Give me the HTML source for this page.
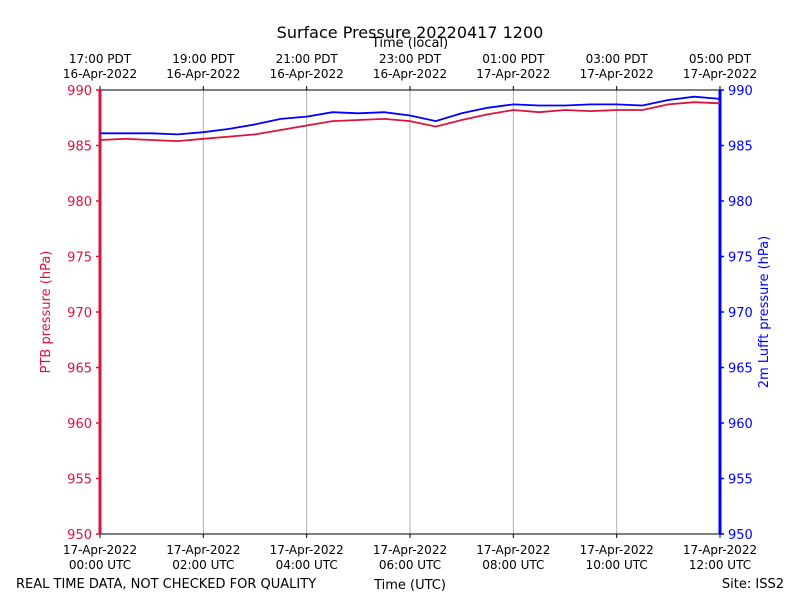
<!DOCTYPE html>
<html><head><meta charset="utf-8"><style>
body{margin:0;background:#fff;font-family:"DejaVu Sans","Liberation Sans",sans-serif}
svg text{font-family:"DejaVu Sans","Liberation Sans",sans-serif}
</style></head><body>
<svg id="c" width="800" height="600" xmlns="http://www.w3.org/2000/svg"></svg>
<script>
const hoursUTC=[0,0.5,1,1.5,2,2.5,3,3.5,4,4.5,5,5.5,6,6.5,7,7.5,8,8.5,9,9.5,10,10.5,11,11.5,12];
const ptbValues=[985.5,985.6,985.5,985.4,985.6,985.8,986.0,986.4,986.8,987.2,987.3,987.4,987.2,986.7,987.3,987.8,988.2,988.0,988.2,988.1,988.2,988.2,988.7,988.9,988.8];
const lufftValues=[986.1,986.1,986.1,986.0,986.2,986.5,986.9,987.4,987.6,988.0,987.9,988.0,987.7,987.2,987.9,988.4,988.7,988.6,988.6,988.7,988.7,988.6,989.1,989.4,989.2];
const yTicks=[950,955,960,965,970,975,980,985,990];
const xTickHours=[0,2,4,6,8,10,12];
const xTickUTC=["00:00 UTC","02:00 UTC","04:00 UTC","06:00 UTC","08:00 UTC","10:00 UTC","12:00 UTC"];
const xTickUTCDate=["17-Apr-2022","17-Apr-2022","17-Apr-2022","17-Apr-2022","17-Apr-2022","17-Apr-2022","17-Apr-2022"];
const xTickLocal=["17:00 PDT","19:00 PDT","21:00 PDT","23:00 PDT","01:00 PDT","03:00 PDT","05:00 PDT"];
const xTickLocalDate=["16-Apr-2022","16-Apr-2022","16-Apr-2022","16-Apr-2022","17-Apr-2022","17-Apr-2022","17-Apr-2022"];
const L=100,R=720,T=90,B=534;
const x=h=>L+(h-0)/(12-0)*(R-L);
const y=v=>B-(v-950)/(990-950)*(B-T);
const svg=document.getElementById('c');
function el(tag,attrs,txt){const e=document.createElementNS('http://www.w3.org/2000/svg',tag);for(const k in attrs)e.setAttribute(k,attrs[k]);if(txt!==undefined)e.textContent=txt;svg.appendChild(e);return e;}
function t(xx,yy,s,o){return el('text',Object.assign({x:xx,y:yy,'font-size':12,'text-anchor':'middle'},o||{}),s);}
xTickHours.forEach((h,i)=>{
 const g=el('line',{x1:x(h),x2:x(h),y1:T,y2:B,stroke:'#b0b0b0','stroke-width':1});
 
 
 const tk=el('line',{x1:x(h),x2:x(h),y1:B,y2:B+4,stroke:'#000'});
 
 
 const tk2=el('line',{x1:x(h),x2:x(h),y1:T,y2:T-4,stroke:'#000'});
 
 
 const a=t(x(h),554,xTickUTCDate[i]);
 const b=t(x(h),569,xTickUTC[i]);
 const c=t(x(h),63,xTickLocal[i]);
 const d=t(x(h),78,xTickLocalDate[i]);
});
const fr=el('rect',{x:L,y:T,width:R-L,height:B-T,fill:'none',stroke:'#000','stroke-width':1});

yTicks.forEach(v=>{
 const a=el('line',{x1:L-4,x2:L,y1:y(v),y2:y(v),stroke:'#dc143c','stroke-width':1.5});
 const b=el('line',{x1:R,x2:R+4,y1:y(v),y2:y(v),stroke:'#0000ff','stroke-width':1.5});
 const c=t(L-8,y(v)+5,v,{'text-anchor':'end',fill:'#dc143c','font-size':13});
 const d=t(R+8,y(v)+5,v,{'text-anchor':'start',fill:'#0000ff','font-size':13});
});
const sl=el('line',{x1:L,x2:L,y1:T,y2:B,stroke:'#dc143c','stroke-width':3});
const sr=el('line',{x1:R,x2:R,y1:T,y2:B,stroke:'#0000ff','stroke-width':3});
function pts(vals){return hoursUTC.map((h,i)=>x(h).toFixed(1)+','+y(vals[i]).toFixed(1)).join(' ');}
const p1=el('polyline',{points:pts(ptbValues),fill:'none',stroke:'#dc143c','stroke-width':1.8});

const p2=el('polyline',{points:pts(lufftValues),fill:'none',stroke:'#0000ff','stroke-width':1.8});

const ti=t(410,38,'Surface Pressure 20220417 1200',{'font-size':16});
const tl=t(410,47,'Time (local)',{'font-size':13});
const xu=t(410,589,'Time (UTC)',{'font-size':13});
const yl=t(0,0,'PTB pressure (hPa)',{'font-size':13,fill:'#dc143c',transform:'translate(55,312) rotate(-90)'});
yl.setAttribute('transform','translate(50,312) rotate(-90)');
const yr=t(0,0,'2m Lufft pressure (hPa)',{'font-size':13,fill:'#0000ff',transform:'translate(768,312) rotate(-90)'});
const n1=t(16,588,'REAL TIME DATA, NOT CHECKED FOR QUALITY',{'font-size':13,'text-anchor':'start'});
const n2=t(784,588,'Site: ISS2',{'font-size':13,'text-anchor':'end'});
</script>
</body></html>
